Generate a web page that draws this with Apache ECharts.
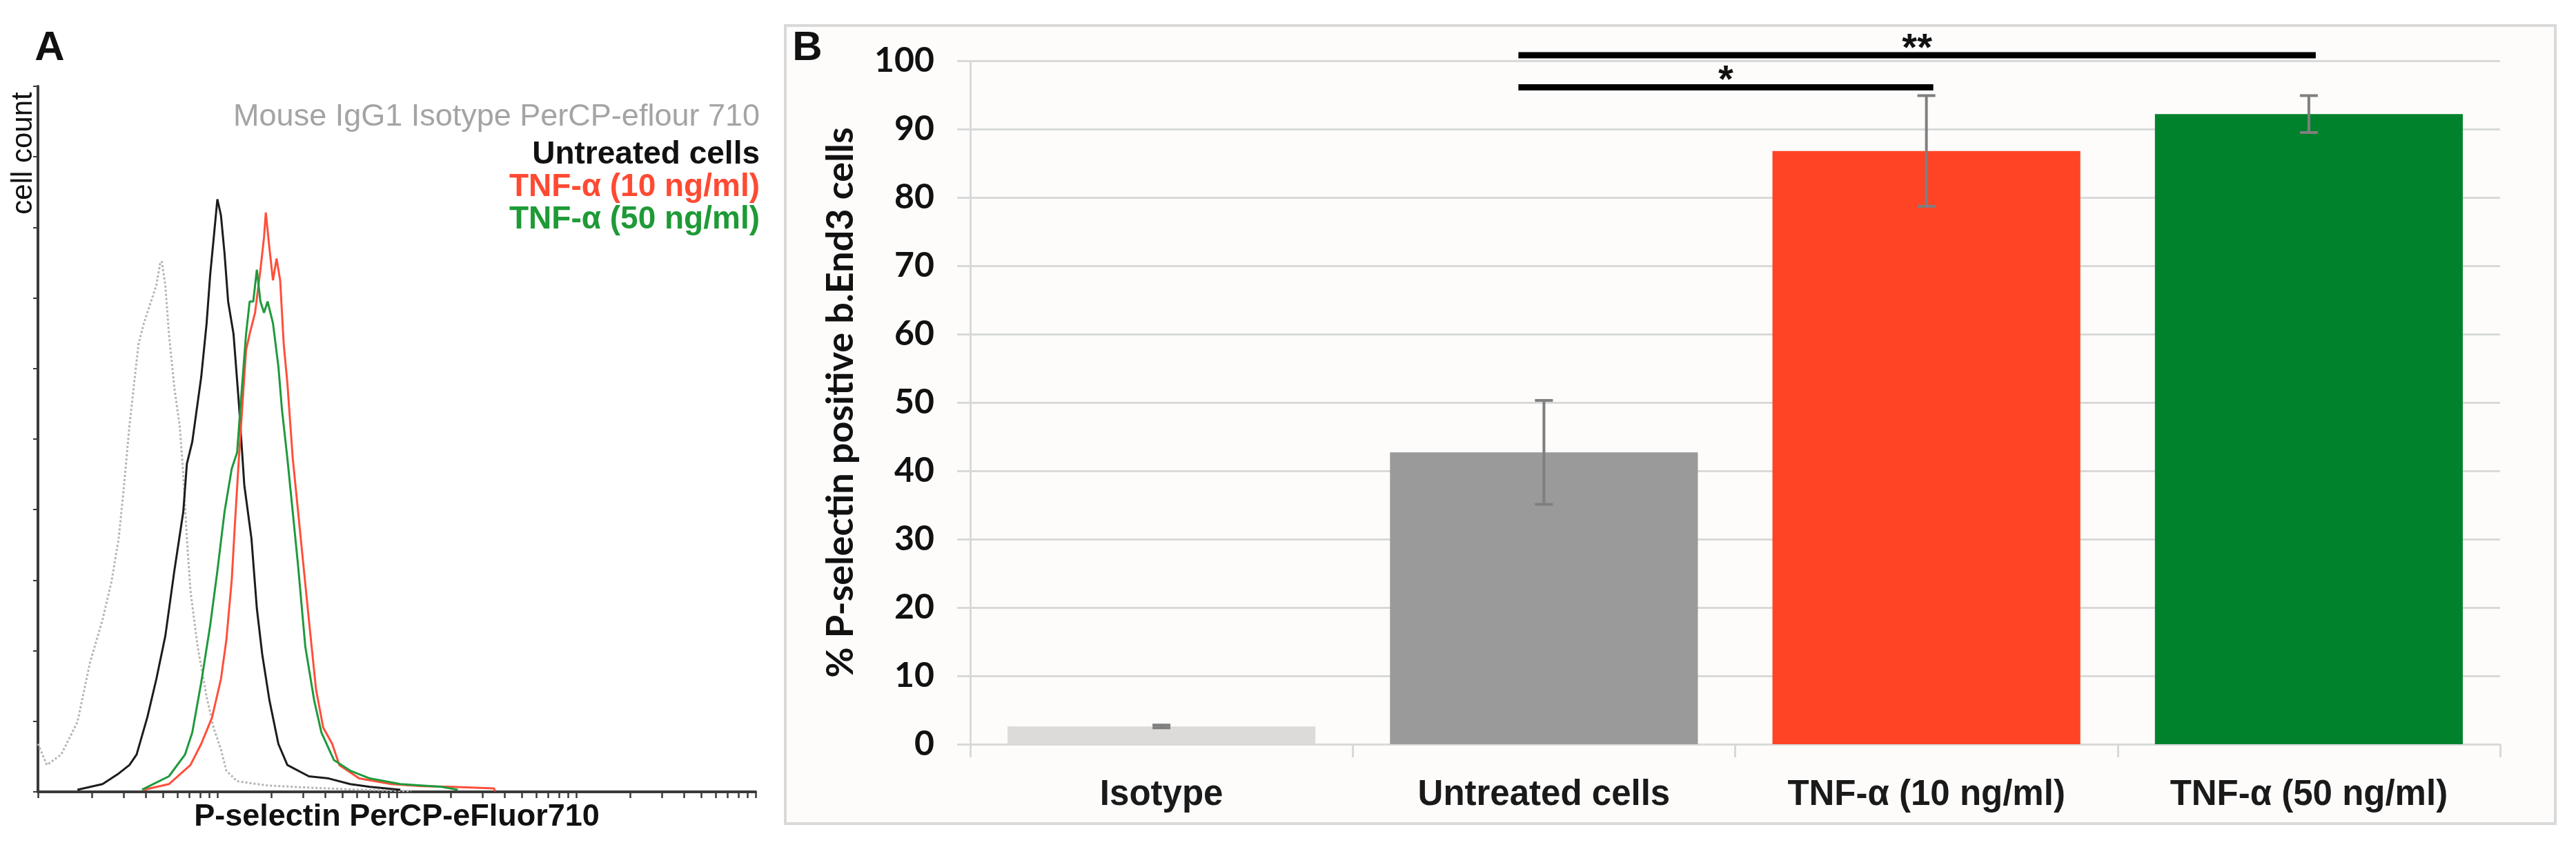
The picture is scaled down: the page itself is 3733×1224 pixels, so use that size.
<!DOCTYPE html>
<html>
<head>
<meta charset="utf-8">
<script src="https://cdn.jsdelivr.net/npm/echarts@6/dist/echarts.min.js"></script>
<style>
html,body{margin:0;padding:0;background:#fff;}
#chart{width:3733px;height:1224px;}
</style>
</head>
<body>
<div id="chart"></div>
<script>
// ---------- Panel A: flow cytometry histogram (x = log10 fluorescence, y = % of max count) ----------
const isotypeCurve = [[1.00,6.8],[1.05,3.8],[1.13,5.3],[1.22,9.9],[1.29,18.3],[1.36,24.4],[1.41,29.8],[1.45,35.9],[1.48,43.5],[1.51,51.9],[1.53,56.5],[1.56,63.4],[1.59,66.4],[1.63,69.5],[1.66,71.8],[1.68,74.8],[1.69,75.2],[1.71,71.8],[1.73,64.9],[1.76,57.3],[1.79,51.9],[1.81,45.0],[1.83,35.9],[1.85,28.5],[1.89,20.6],[1.94,13.5],[1.98,9.0],[2.02,6.0],[2.05,3.0],[2.11,1.5],[2.28,0.9],[2.51,0.6],[2.79,0.3],[3.08,0.1]];
const untreatedCurve = [[1.22,0.3],[1.36,1.1],[1.45,2.6],[1.51,3.8],[1.55,5.3],[1.61,10.6],[1.66,16.0],[1.71,22.1],[1.76,31.3],[1.81,39.7],[1.83,46.5],[1.86,49.6],[1.91,58.8],[1.94,66.4],[1.96,73.3],[1.98,78.6],[2.00,84.0],[2.02,81.7],[2.04,76.3],[2.06,69.5],[2.09,64.9],[2.12,55.0],[2.15,43.5],[2.19,35.9],[2.22,26.0],[2.25,19.5],[2.29,13.0],[2.34,6.8],[2.39,3.8],[2.51,2.2],[2.62,1.9],[2.74,1.1],[2.85,0.7],[3.02,0.3]];
const tnf10Curve = [[1.59,0.3],[1.73,1.1],[1.85,3.8],[1.91,6.8],[1.97,10.5],[2.02,16.0],[2.05,21.5],[2.08,30.0],[2.10,38.9],[2.12,47.3],[2.14,55.0],[2.16,62.6],[2.18,64.9],[2.21,67.9],[2.24,74.0],[2.26,78.6],[2.27,82.1],[2.29,77.1],[2.31,72.5],[2.33,75.6],[2.35,72.5],[2.37,63.4],[2.39,58.0],[2.42,47.3],[2.45,39.7],[2.48,32.0],[2.51,24.4],[2.55,14.5],[2.59,9.1],[2.64,6.8],[2.68,3.8],[2.79,1.9],[2.97,1.1],[3.14,0.8],[3.31,0.7],[3.54,0.5],[3.55,0.1]];
const tnf50Curve = [[1.58,0.3],[1.73,2.2],[1.82,5.3],[1.86,8.4],[1.91,15.5],[1.96,23.6],[2.00,31.3],[2.04,39.7],[2.08,45.8],[2.11,48.1],[2.13,55.0],[2.16,64.9],[2.18,69.5],[2.20,69.5],[2.22,74.0],[2.24,69.5],[2.26,67.9],[2.28,69.5],[2.31,66.4],[2.34,60.3],[2.36,54.2],[2.39,47.3],[2.42,39.7],[2.45,32.0],[2.49,20.6],[2.54,12.9],[2.58,8.4],[2.65,4.5],[2.74,3.0],[2.85,1.9],[3.02,1.1],[3.25,0.7],[3.34,0.3]];
const histLegend = ['Mouse IgG1 Isotype PerCP-eflour 710','Untreated cells','TNF-α (10 ng/ml)','TNF-α (50 ng/ml)'];
const histDecades = [10, 100, 1000, 10000, 100000];
const histMinorMultipliers = [2,3,4,5,6,7,8,9];

// ---------- Panel B: bar chart ----------
const categories = ['Isotype','Untreated cells','TNF-α (10 ng/ml)','TNF-α (50 ng/ml)'];
const percentPositive = [2.6, 42.7, 86.8, 92.2];
const errorSD = [0.2, 7.6, 8.1, 2.7];
const bracketFrom = [1, 1];
const bracketTo = [2, 3];
const bracketLevel = [96.1, 100.8];
const bracketLabel = ['*', '**'];

// ---------- styles ----------
const curveColors = ['#b4b4b4', '#1c1c1c', '#ff4f3a', '#1f993c'];
const legendColors = ['#a4a4a4', '#111111', '#ff4a33', '#1e9a37'];
const barColors = ['#dddbda', '#9a9a9a', '#ff4426', '#00822d'];

// tick values for the log axis, expressed as log10 of the channel value
const histTicks = [];
histDecades.forEach((d, k) => {
  histTicks.push(Math.log10(d));
  if (k < histDecades.length - 1) histMinorMultipliers.forEach(m => histTicks.push(Math.log10(d * m)));
});

const chart = echarts.init(document.getElementById('chart'));

const A_AXIS = '#3a3a3a';
const GRID_B = '#d9d9d9';

const option = {
  animation: false,
  backgroundColor: '#ffffff',
  grid: [
    { left: 55, top: 125, width: 1040, height: 1022 },
    { left: 1406, top: 88, width: 2217, height: 990 }
  ],
  xAxis: [
    {
      gridIndex: 0, type: 'value', min: 1, max: 5,
      axisLine: { show: true, onZero: false, lineStyle: { color: A_AXIS, width: 4 } },
      axisTick: { show: true, customValues: histTicks, length: 9, lineStyle: { color: A_AXIS, width: 2.5 } },
      axisLabel: { show: false },
      splitLine: { show: false },
      name: 'P-selectin PerCP-eFluor710', nameLocation: 'middle', nameGap: 14,
      nameTextStyle: { fontFamily: 'Liberation Sans', fontWeight: 'bold', fontSize: 45, color: '#111', verticalAlign: 'top' }
    },
    {
      gridIndex: 1, type: 'category', data: categories,
      axisLine: { show: true, lineStyle: { color: GRID_B, width: 3 } },
      axisTick: { show: true, alignWithLabel: false, length: 19, lineStyle: { color: GRID_B, width: 3 } },
      axisLabel: { margin: 48, fontFamily: 'Liberation Sans', fontWeight: 'bold', fontSize: 51, color: '#1a1a1a' }
    }
  ],
  yAxis: [
    {
      gridIndex: 0, type: 'value', min: 0, max: 100, interval: 10,
      axisLine: { show: true, onZero: false, lineStyle: { color: A_AXIS, width: 4 } },
      axisTick: { show: true, length: 7, lineStyle: { color: A_AXIS, width: 2 } },
      axisLabel: { show: false },
      splitLine: { show: false }
    },
    {
      gridIndex: 1, type: 'value', min: 0, max: 100, interval: 10,
      axisLine: { show: true, lineStyle: { color: GRID_B, width: 3 } },
      axisTick: { show: true, length: 19, lineStyle: { color: GRID_B, width: 3 } },
      splitLine: { show: true, lineStyle: { color: GRID_B, width: 3 } },
      axisLabel: { margin: 52, fontFamily: 'Lato', fontWeight: 'bold', fontSize: 50, color: '#111' },
      name: '% P-selectin positive b.End3 cells', nameLocation: 'middle', nameGap: 160, nameRotate: 90,
      nameTextStyle: { fontFamily: 'Lato', fontWeight: 'bold', fontSize: 54, color: '#111' }
    }
  ],
  graphic: [
    { type: 'rect', z: -10, shape: { x: 1138, y: 37, width: 2565, height: 1156 },
      style: { fill: '#fdfcfb', stroke: GRID_B, lineWidth: 4 } },
    { type: 'text', x: 72, y: 70, style: { text: 'A', font: 'bold 60px "Liberation Sans"', fill: '#111', textAlign: 'center', textVerticalAlign: 'middle' } },
    { type: 'text', x: 1170, y: 70, style: { text: 'B', font: 'bold 60px "Liberation Sans"', fill: '#111', textAlign: 'center', textVerticalAlign: 'middle' } },
    { type: 'text', x: 34, y: 222, rotation: Math.PI / 2,
      style: { text: 'cell count', font: '42px "Liberation Sans"', fill: '#111', textAlign: 'center', textVerticalAlign: 'middle' } },
    { type: 'text', x: 1101, y: 170, style: { text: histLegend[0], font: '45px "Liberation Sans"', fill: legendColors[0], textAlign: 'right', textVerticalAlign: 'middle' } },
    { type: 'text', x: 1101, y: 224, style: { text: histLegend[1], font: 'bold 46px "Liberation Sans"', fill: legendColors[1], textAlign: 'right', textVerticalAlign: 'middle' } },
    { type: 'text', x: 1101, y: 271, style: { text: histLegend[2], font: 'bold 46px "Liberation Sans"', fill: legendColors[2], textAlign: 'right', textVerticalAlign: 'middle' } },
    { type: 'text', x: 1101, y: 318, style: { text: histLegend[3], font: 'bold 46px "Liberation Sans"', fill: legendColors[3], textAlign: 'right', textVerticalAlign: 'middle' } }
  ],
  series: [
    { name: histLegend[0], type: 'line', xAxisIndex: 0, yAxisIndex: 0, data: isotypeCurve, showSymbol: false, symbol: 'none',
      lineStyle: { color: curveColors[0], width: 3, type: 'dotted' } },
    { name: histLegend[1], type: 'line', xAxisIndex: 0, yAxisIndex: 0, data: untreatedCurve, showSymbol: false, symbol: 'none',
      lineStyle: { color: curveColors[1], width: 3 } },
    { name: histLegend[2], type: 'line', xAxisIndex: 0, yAxisIndex: 0, data: tnf10Curve, showSymbol: false, symbol: 'none',
      lineStyle: { color: curveColors[2], width: 3 } },
    { name: histLegend[3], type: 'line', xAxisIndex: 0, yAxisIndex: 0, data: tnf50Curve, showSymbol: false, symbol: 'none',
      lineStyle: { color: curveColors[3], width: 3 } },
    { name: 'percent', type: 'bar', xAxisIndex: 1, yAxisIndex: 1, barWidth: '80.5%',
      data: percentPositive.map((v, i) => ({ value: v, itemStyle: { color: barColors[i] } })) },
    { name: 'error', type: 'custom', xAxisIndex: 1, yAxisIndex: 1, z: 5,
      data: percentPositive.map((v, i) => [i, v, errorSD[i]]),
      renderItem: function (params, api) {
        const i = api.value(0), v = api.value(1), e = api.value(2);
        const hi = api.coord([i, v + e]);
        const lo = api.coord([i, v - e]);
        const cap = 13;
        const st = { stroke: '#7f7f7f', lineWidth: 4 };
        return { type: 'group', children: [
          { type: 'line', shape: { x1: hi[0], y1: hi[1], x2: lo[0], y2: lo[1] }, style: st },
          { type: 'line', shape: { x1: hi[0] - cap, y1: hi[1], x2: hi[0] + cap, y2: hi[1] }, style: st },
          { type: 'line', shape: { x1: lo[0] - cap, y1: lo[1], x2: lo[0] + cap, y2: lo[1] }, style: st }
        ] };
      }
    },
    { name: 'significance', type: 'custom', xAxisIndex: 1, yAxisIndex: 1, z: 6, clip: false,
      data: bracketFrom.map((f, k) => [f, bracketTo[k], bracketLevel[k], k]),
      renderItem: function (params, api) {
        const a = api.coord([api.value(0), api.value(2)]);
        const b = api.coord([api.value(1), api.value(2)]);
        const x1 = a[0] - 37, x2 = b[0] + 10;
        const lbl = bracketLabel[api.value(3)];
        return { type: 'group', children: [
          { type: 'line', shape: { x1: x1, y1: a[1], x2: x2, y2: a[1] }, style: { stroke: '#000', lineWidth: 9 } },
          { type: 'text', x: (x1 + x2) / 2, y: a[1] - 9,
            style: { text: lbl, font: 'bold 56px "Liberation Sans"', fill: '#111', textAlign: 'center', textVerticalAlign: 'middle' } }
        ] };
      }
    }
  ]
};
chart.setOption(option);
</script>
</body>
</html>
